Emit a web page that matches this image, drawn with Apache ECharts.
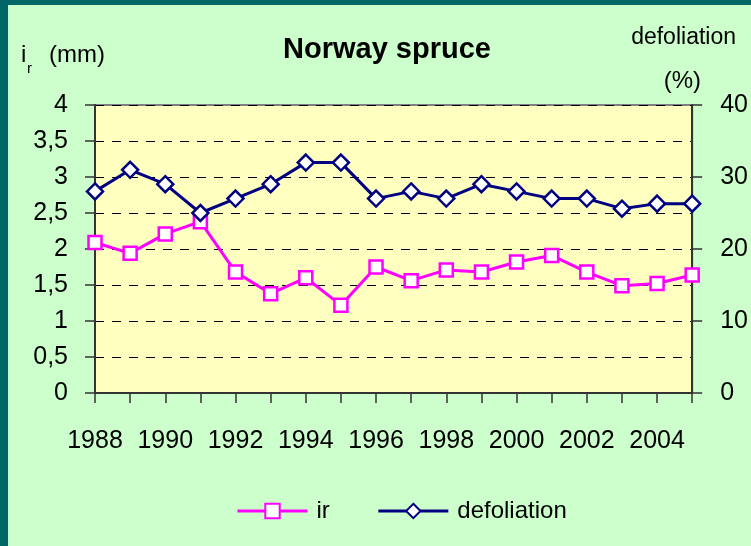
<!DOCTYPE html>
<html>
<head>
<meta charset="utf-8">
<script src="https://cdn.jsdelivr.net/npm/echarts@6/dist/echarts.min.js"></script>
<style>
  html, body { margin: 0; padding: 0; background: #006666; }
  #chart { position: absolute; left: 8px; top: 5px; width: 743px; height: 541px; background: #ccffcc; }
</style>
</head>
<body>
<div id="chart"></div>
<script>
const years = ['1988', '1989', '1990', '1991', '1992', '1993', '1994', '1995', '1996',
  '1997', '1998', '1999', '2000', '2001', '2002', '2003', '2004', '2005'];
// increment ir (mm), left axis
const ir = [2.09, 1.94, 2.21, 2.38, 1.68, 1.38, 1.60, 1.22, 1.75,
  1.56, 1.71, 1.68, 1.82, 1.91, 1.68, 1.49, 1.52, 1.64];
// defoliation (%), right axis
const defoliation = [28, 31, 29, 25, 27, 29, 32, 32, 27,
  28, 27, 29, 28, 27, 27, 25.6, 26.3, 26.3];

const FONT = '"Liberation Sans", Arial, sans-serif';

const chart = echarts.init(document.getElementById('chart'));

chart.setOption({
  animation: false,
  textStyle: { fontFamily: FONT, color: '#000' },
  title: {
    text: 'Norway spruce',
    left: 374, top: 25,
    textAlign: 'center',
    textStyle: { fontFamily: FONT, fontWeight: 'bold', fontSize: 29, color: '#000' }
  },
  graphic: [
    {
      type: 'text', left: 13, top: 38,
      style: { text: 'i', fontFamily: FONT, fontSize: 24, fill: '#000' }
    },
    {
      type: 'text', left: 19, top: 56,
      style: { text: 'r', fontFamily: FONT, fontSize: 15, fill: '#000' }
    },
    {
      type: 'text', left: 41, top: 38,
      style: { text: '(mm)', fontFamily: FONT, fontSize: 24, fill: '#000' }
    },
    {
      type: 'text', right: 15, top: 21,
      style: { text: 'defoliation', fontFamily: FONT, fontSize: 23, fill: '#000' }
    },
    {
      type: 'text', right: 50, top: 64,
      style: { text: '(%)', fontFamily: FONT, fontSize: 24, fill: '#000' }
    }
  ],
  legend: {
    left: 223, top: 489,
    itemWidth: 70, itemHeight: 18, itemGap: 47,
    lineStyle: { width: 3 },
    textStyle: { fontFamily: FONT, fontSize: 24, color: '#000', padding: [0, 0, 0, 4] },
    data: ['ir', 'defoliation']
  },
  grid: {
    left: 87, top: 100, right: 57, bottom: 153,
    show: true, backgroundColor: '#ffffc0',
    borderColor: '#808080', borderWidth: 2
  },
  xAxis: {
    type: 'category',
    data: years,
    boundaryGap: false,
    axisLine: { lineStyle: { color: '#333', width: 2 } },
    axisTick: { show: true, interval: 0, length: 10, lineStyle: { color: '#333', width: 1.5 } },
    axisLabel: { interval: 1, margin: 36, fontFamily: FONT, fontSize: 25, color: '#000' },
    splitLine: { show: false }
  },
  yAxis: [
    {
      type: 'value', min: 0, max: 4, interval: 0.5,
      axisLine: { show: true, lineStyle: { color: '#333', width: 2 } },
      axisTick: { show: true, length: 10, lineStyle: { color: '#333', width: 1.5 } },
      axisLabel: {
        margin: 27, fontFamily: FONT, fontSize: 25, color: '#000',
        formatter: v => String(v).replace('.', ',')
      },
      splitLine: { show: true, lineStyle: { color: '#000', type: [9, 8], width: 1 } }
    },
    {
      type: 'value', min: 0, max: 40, interval: 10,
      position: 'right',
      axisLine: { show: true, lineStyle: { color: '#333', width: 2 } },
      axisTick: { show: true, length: 10, lineStyle: { color: '#333', width: 1.5 } },
      axisLabel: { margin: 28, fontFamily: FONT, fontSize: 25, color: '#000' },
      splitLine: { show: false }
    }
  ],
  series: [
    {
      name: 'ir',
      type: 'line',
      yAxisIndex: 0,
      data: ir,
      symbol: 'rect',
      symbolSize: 13,
      lineStyle: { color: '#ff00ff', width: 3 },
      itemStyle: { color: '#fff', borderColor: '#ff00ff', borderWidth: 2.5 },
      z: 3
    },
    {
      name: 'defoliation',
      type: 'line',
      yAxisIndex: 1,
      data: defoliation,
      symbol: 'diamond',
      symbolSize: 16,
      lineStyle: { color: '#000080', width: 3 },
      itemStyle: { color: '#fff', borderColor: '#000080', borderWidth: 2.5 },
      z: 4
    }
  ]
});
</script>
</body>
</html>
